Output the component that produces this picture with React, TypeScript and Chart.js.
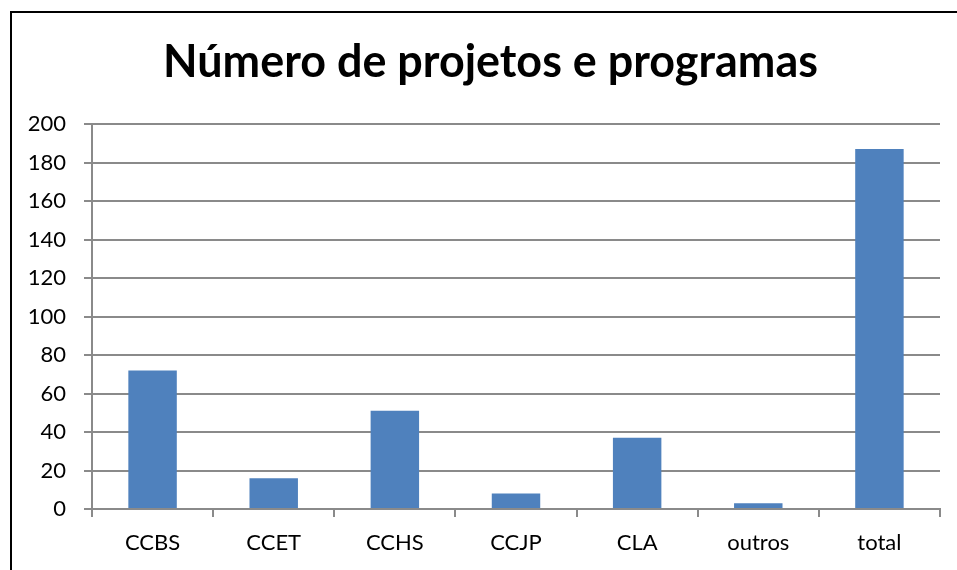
import React, { useEffect, useRef } from "react";
import { Chart, registerables } from "chart.js";

Chart.register(...registerables);

const categories = ["CCBS", "CCET", "CCHS", "CCJP", "CLA", "outros", "total"];
const values = [72, 16, 51, 8, 37, 3, 187];
const titleText = "Número de projetos e programas";

const titlePlugin = {
  id: "customTitle",
  afterDraw(chart: any) {
    const ctx = chart.ctx as CanvasRenderingContext2D;
    ctx.save();
    let size = 44;
    ctx.font = `bold ${size}px Lato`;
    const w = ctx.measureText(titleText).width;
    size = size * (655 / w);
    ctx.font = `bold ${size}px Lato`;
    ctx.fillStyle = "#000";
    ctx.textAlign = "center";
    ctx.textBaseline = "alphabetic";
    ctx.fillText(titleText, 490.5, 77);
    ctx.restore();
  },
};

export default function App() {
  const ref = useRef<HTMLCanvasElement>(null);

  useEffect(() => {
    document.body.style.margin = "0";
    const ctx = ref.current!;
    const gridColor = "#8a8a8a";
    const chart = new Chart(ctx, {
      type: "bar",
      data: {
        labels: categories,
        datasets: [
          {
            data: values,
            backgroundColor: "#4F81BD",
            borderColor: "#4F81BD",
            borderWidth: 0,
            categoryPercentage: 1,
            barPercentage: 0.4,
          },
        ],
      },
      plugins: [titlePlugin],
      options: {
        animation: false,
        responsive: false,
        maintainAspectRatio: false,
        layout: { padding: { left: 0, right: 17, top: 124, bottom: 0 } },
        plugins: {
          legend: { display: false },
          tooltip: { enabled: false },
          title: { display: false },
        },
        scales: {
          x: {
            afterFit: (scale: any) => {
              scale.height = 61;
            },
            grid: {
              display: true,
              offset: true,
              drawOnChartArea: false,
              drawTicks: true,
              tickLength: 8,
              color: gridColor,
              lineWidth: 2,
            },
            border: { display: true, color: gridColor, width: 2 },
            ticks: {
              color: "#000",
              font: { family: "Lato", size: 22 },
              padding: 13,
              maxRotation: 0,
            },
          },
          y: {
            min: 0,
            max: 200,
            afterFit: (scale: any) => {
              scale.width = 92;
            },
            grid: {
              color: gridColor,
              lineWidth: 2,
              tickLength: 8,
              drawTicks: true,
            },
            border: { display: true, color: gridColor, width: 2 },
            ticks: {
              stepSize: 20,
              color: "#000",
              font: { family: "Lato", size: 22 },
              padding: 18,
            },
          },
        },
      },
    });
    return () => chart.destroy();
  }, []);

  return (
    <div
      style={{
        position: "fixed",
        left: 0,
        top: 0,
        width: 957,
        height: 570,
        overflow: "hidden",
        background: "#fff",
      }}
    >
      <div
        style={{
          position: "absolute",
          left: 10,
          top: 11,
          width: 1000,
          height: 600,
          border: "2px solid #000",
          boxSizing: "border-box",
        }}
      />
      <canvas
        ref={ref}
        width={957}
        height={570}
        style={{ position: "absolute", left: 0, top: 0, width: 957, height: 570 }}
      />
    </div>
  );
}
